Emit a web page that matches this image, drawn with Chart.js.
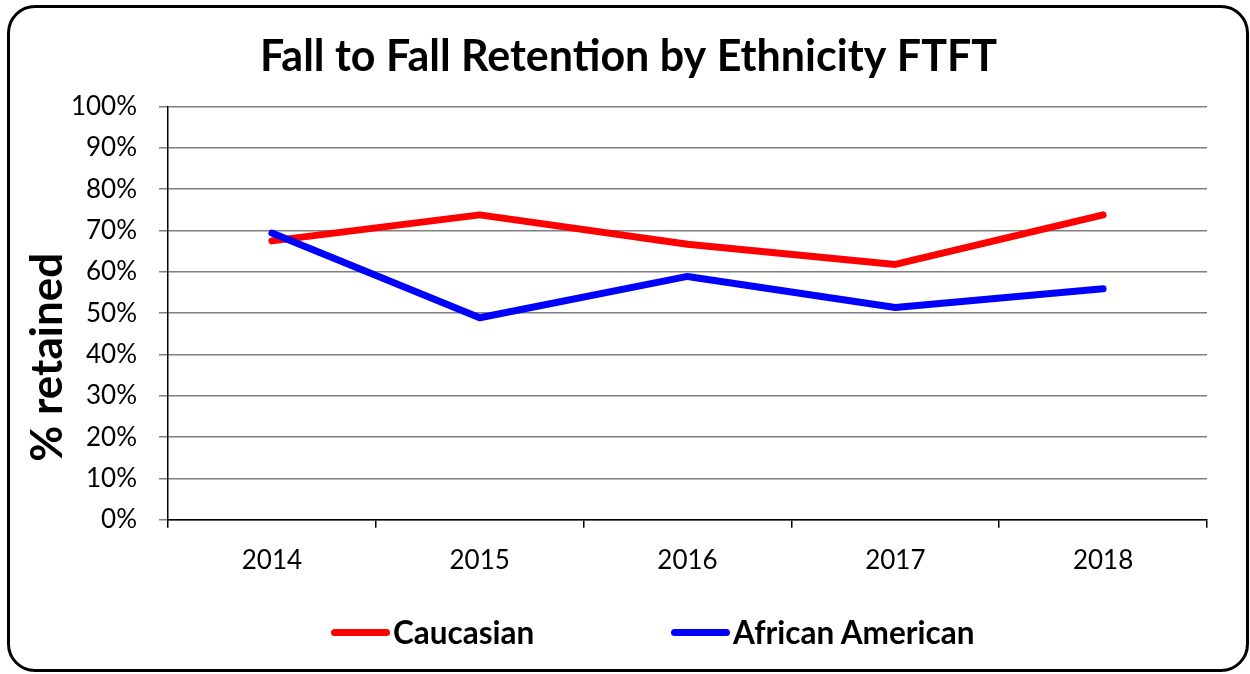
<!DOCTYPE html>
<html>
<head>
<meta charset="utf-8">
<script src="https://cdn.jsdelivr.net/npm/chart.js@4.4.1/dist/chart.umd.min.js"></script>
<style>
  html, body { margin: 0; padding: 0; background: #fff; }
  #wrap { position: relative; width: 1250px; height: 674px; overflow: hidden; }
  #frame {
    position: absolute; left: 7px; top: 5px; width: 1242px; height: 667px;
    box-sizing: border-box; border: 3.5px solid #000; border-radius: 28px;
    pointer-events: none;
  }
  canvas { position: absolute; left: 0; top: 0; }
  #legend {
    position: absolute; left: 331px; top: 612px; height: 40px;
    display: flex; align-items: center;
    font-family: Lato, "Noto Sans", sans-serif; font-weight: bold; font-size: 31.5px; color: #000;
  }
  .item { display: flex; align-items: center; }
  .item:first-child { width: 340px; }
  .swatch { width: 59px; height: 7px; border-radius: 4px; margin-right: 3px; }
</style>
</head>
<body>
<div id="wrap">
  <canvas id="chart" width="1250" height="674"></canvas>
  <div id="frame"></div>
  <div id="legend"></div>
</div>
<script>
// Data
const years = ['2014', '2015', '2016', '2017', '2018'];
const caucasian = [67.5, 73.8, 66.7, 61.8, 73.8];
const africanAmerican = [69.4, 48.9, 58.9, 51.4, 55.9];
const seriesNames = ['Caucasian', 'African American'];
const seriesColors = ['#ff0000', '#0000ff'];
const yTickStep = 10;

// HTML legend built from the chart's datasets
const htmlLegend = {
  id: 'htmlLegend',
  afterUpdate(chart) {
    const box = document.getElementById('legend');
    box.innerHTML = '';
    chart.data.datasets.forEach(ds => {
      const item = document.createElement('div');
      item.className = 'item';
      const sw = document.createElement('span');
      sw.className = 'swatch';
      sw.style.background = ds.borderColor;
      const txt = document.createElement('span');
      txt.textContent = ds.label;
      item.appendChild(sw);
      item.appendChild(txt);
      box.appendChild(item);
    });
  }
};

const ctx = document.getElementById('chart').getContext('2d');

new Chart(ctx, {
  type: 'line',
  data: {
    labels: years,
    datasets: [
      {
        label: seriesNames[0],
        data: caucasian,
        borderColor: seriesColors[0],
        backgroundColor: seriesColors[0],
        order: 1
      },
      {
        label: seriesNames[1],
        data: africanAmerican,
        borderColor: seriesColors[1],
        backgroundColor: seriesColors[1],
        order: 0
      }
    ]
  },
  options: {
    responsive: false,
    animation: false,
    layout: { padding: { left: 50, right: 43, top: 31, bottom: 81 } },
    elements: {
      line: { borderWidth: 7, borderCapStyle: 'round', borderJoinStyle: 'round', tension: 0 },
      point: { radius: 0, hoverRadius: 0 }
    },
    plugins: {
      legend: { display: false },
      tooltip: { enabled: false },
      title: {
        display: true,
        text: 'Fall to Fall Retention by Ethnicity FTFT',
        color: '#000',
        font: { family: 'Lato', size: 43, weight: 'bold' },
        padding: { top: 0, bottom: 24 }
      }
    },
    scales: {
      x: {
        type: 'category',
        offset: true,
        grid: { drawOnChartArea: false, offset: true, tickLength: 8, tickColor: '#000', lineWidth: 1.5 },
        border: { color: '#000', width: 1.5 },
        ticks: { color: '#000', font: { family: 'Lato', size: 26 }, padding: 17 }
      },
      y: {
        min: 0,
        max: 100,
        afterFit(scale) { scale.width = 118; },
        grid: { color: '#7f7f7f', tickColor: '#7f7f7f', lineWidth: 1.5, tickLength: 9 },
        border: { color: '#000', width: 1.5 },
        ticks: {
          stepSize: yTickStep,
          color: '#000',
          padding: 22,
          font: { family: 'Lato', size: 26 },
          callback: v => v + '%'
        },
        title: {
          display: true,
          text: '% retained\u2002\u2002\u2002\u2002',
          color: '#000',
          font: { family: 'Lato', size: 44, weight: 'bold' },
          padding: { top: -28.4, bottom: 0 }
        }
      }
    }
  },
  plugins: [htmlLegend]
});
</script>
</body>
</html>
